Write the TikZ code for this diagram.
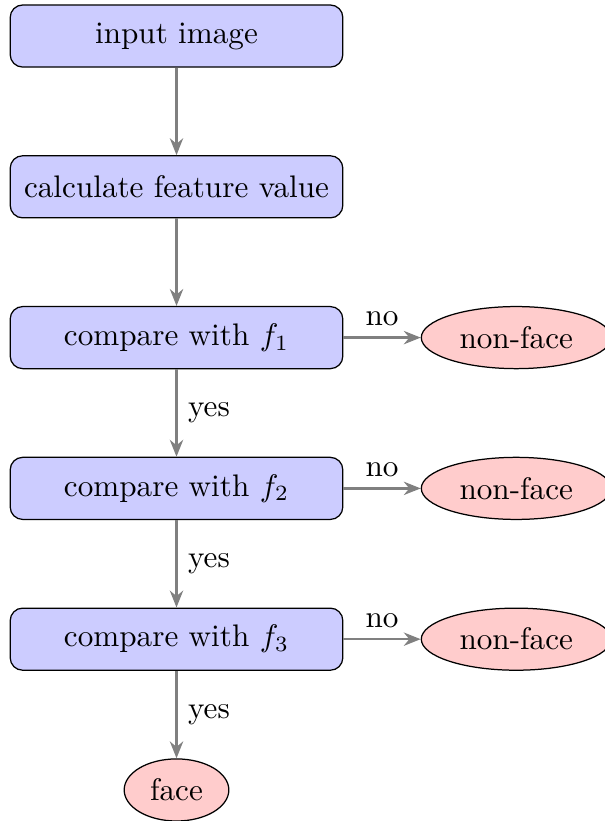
\documentclass[tikz,border=0pt]{standalone}
\usepackage{tikz}
\usetikzlibrary{positioning,arrows.meta,shapes.geometric}

\begin{document}
\begin{tikzpicture}[
    block/.style={rectangle, draw, fill=blue!20, rounded corners=4pt, minimum width=3.75cm, minimum height=0.7cm, inner sep=2pt, align=center},
    cloud/.style={ellipse, draw, fill=red!20, minimum height=0.7cm, inner sep=1pt},
    line/.style={draw=gray, thick, -{Stealth[length=1.9mm,width=1.5mm]}}
]
    \useasboundingbox (-1.99,0.406) rectangle (4.83,-8.85);

    % cascade of stages
    \node[block] (input) at (0,0) {input image};
    \node[block] (feat) at (0,-1.7) {calculate feature value};
    \node[block] (cmp1) at (0,-3.4) {compare with $f_1$};
    \node[block] (cmp2) at (0,-5.1) {compare with $f_2$};
    \node[block] (cmp3) at (0,-6.8) {compare with $f_3$};
    \node[cloud, minimum width=1.18cm] (face) at (0,-8.5) {face};

    % rejections
    \node[cloud, minimum width=2.14cm] (rej1) at (3.83,-3.4) {non-face};
    \node[cloud, minimum width=2.14cm] (rej2) at (3.83,-5.1) {non-face};
    \node[cloud, minimum width=2.14cm] (rej3) at (3.83,-6.8) {non-face};

    \draw[line] (input) -- (feat);
    \draw[line] (feat) -- (cmp1);
    \draw[line] (cmp1) -- node[right] {yes} (cmp2);
    \draw[line] (cmp2) -- node[right] {yes} (cmp3);
    \draw[line] (cmp3) -- node[right] {yes} (face);

    \draw[line] (cmp1) -- node[above] {no} (rej1);
    \draw[line] (cmp2) -- node[above] {no} (rej2);
    \draw[line] (cmp3) -- node[above] {no} (rej3);
\end{tikzpicture}
\end{document}
